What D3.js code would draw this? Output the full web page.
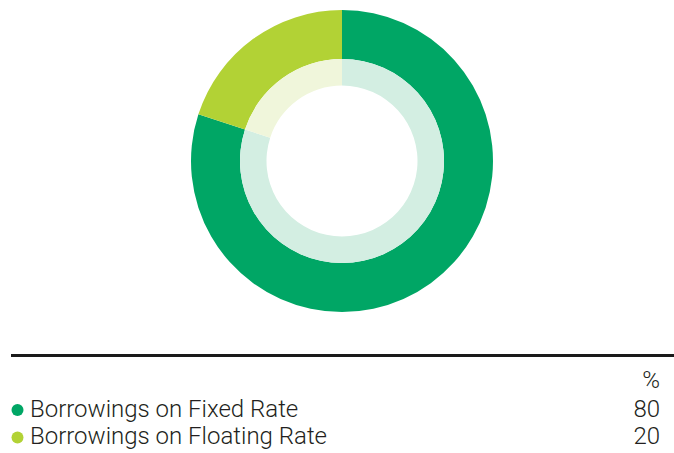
<!DOCTYPE html>
<html>
<head>
<meta charset="utf-8">
<script src="https://cdn.jsdelivr.net/npm/d3@7"></script>
<style>
  html, body { margin: 0; padding: 0; background: #fff; }
  svg { display: block; }
  text { font-family: Roboto, "Liberation Sans", Arial, sans-serif; font-weight: 300; fill: #231f20; }
</style>
</head>
<body>
<svg id="chart" width="674" height="453"></svg>
<script>
// Borrowings split by rate type (%)
const categories = ["Borrowings on Fixed Rate", "Borrowings on Floating Rate"];
const values = [80, 20];
const unitLabel = "%";
const colors = ["#00a665", "#b2d235"];
const paleColors = ["#d3eee2", "#f0f6db"];

const svg = d3.select("#chart");
const cx = 342, cy = 161;

const pie = d3.pie().sort(null).value(d => d.value);
const slices = pie(categories.map((c, i) => ({ name: c, value: values[i], i })));

const outerArc = d3.arc().innerRadius(102).outerRadius(151);
const innerArc = d3.arc().innerRadius(75.5).outerRadius(102);

const g = svg.append("g").attr("transform", `translate(${cx},${cy})`);
g.selectAll("path.outer").data(slices).join("path")
  .attr("class", "outer")
  .attr("d", outerArc)
  .attr("fill", d => colors[d.data.i]);
g.selectAll("path.inner").data(slices).join("path")
  .attr("class", "inner")
  .attr("d", innerArc)
  .attr("fill", d => paleColors[d.data.i]);

// Rule above the legend table
svg.append("line")
  .attr("x1", 11).attr("x2", 674)
  .attr("y1", 355.5).attr("y2", 355.5)
  .attr("stroke", "#1a1a1a").attr("stroke-width", 3);

const fontSize = 24;

svg.append("text")
  .attr("x", 660).attr("y", 387.5)
  .attr("text-anchor", "end")
  .attr("font-size", fontSize)
  .text(unitLabel);

const rowY = d3.scalePoint().domain(categories).range([416.5, 444]);

const rows = svg.selectAll("g.row").data(categories).join("g")
  .attr("class", "row")
  .attr("transform", d => `translate(0,${rowY(d)})`);
rows.append("circle")
  .attr("cx", 17.5).attr("cy", -6.5).attr("r", 6)
  .attr("fill", (d, i) => colors[i]);
rows.append("text")
  .attr("x", 30)
  .attr("font-size", fontSize)
  .text(d => d);
rows.append("text")
  .attr("x", 660)
  .attr("text-anchor", "end")
  .attr("font-size", fontSize)
  .text((d, i) => values[i]);
</script>
</body>
</html>
